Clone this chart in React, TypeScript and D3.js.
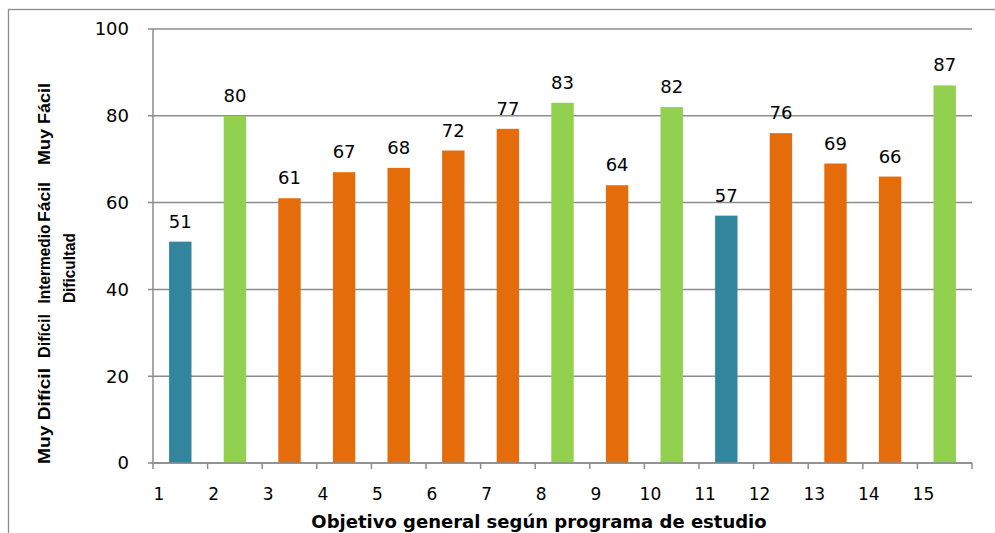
import React from 'react';
import * as d3 from 'd3';

const objetivos = ['1', '2', '3', '4', '5', '6', '7', '8', '9', '10', '11', '12', '13', '14', '15'];
const porcentajes = [51, 80, 61, 67, 68, 72, 77, 83, 64, 82, 57, 76, 69, 66, 87];
// nivel de dificultad de cada objetivo
const niveles = ['intermedio', 'muyFacil', 'facil', 'facil', 'facil', 'facil', 'facil', 'muyFacil', 'facil', 'muyFacil', 'intermedio', 'facil', 'facil', 'facil', 'muyFacil'];
const yTicks = [0, 20, 40, 60, 80, 100];
const escalaDificultad = [
  { label: 'Muy Difícil', y: 416, len: 96 },
  { label: 'Difícil', y: 336, len: 44 },
  { label: 'Intermedio', y: 264, len: 79 },
  { label: 'Fácil', y: 202, len: 40 },
  { label: 'Muy Fácil', y: 124, len: 82 },
];

const colores: Record<string, string> = {
  intermedio: '#31859C',
  muyFacil: '#92D050',
  facil: '#E46C0A',
};

const W = 995;
const H = 533;
const margin = { top: 29, right: 23, bottom: 70, left: 153 };
const gris = '#8c8c8c';
const fuente = "'DejaVu Sans', sans-serif";
const fuenteTitulo = "'Liberation Sans', Arial, sans-serif";

const App: React.FC = () => {
  const x = d3.scaleBand<string>()
    .domain(objetivos)
    .range([margin.left, W - margin.right])
    .padding(0);

  const y = d3.scaleLinear()
    .domain([0, 100])
    .range([H - margin.bottom, margin.top]);

  const bw = x.bandwidth();
  const barW = bw * 0.41;
  const x0 = margin.left;
  const x1 = W - margin.right;
  const y0 = y(0);

  // limites de categoria para las marcas del eje x
  const bordes = objetivos.map(c => x(c)!).concat([x1]);

  return (
    <svg width={W} height={H} style={{ position: 'absolute', left: 0, top: 0, background: '#fff' }}>
      <rect x={8.5} y={9.5} width={1100} height={700} fill="#fff" stroke={gris} strokeWidth={1.3} />

      {/* rejilla */}
      {yTicks.map(t => (
        <g key={t}>
          <line x1={x0 - 5} x2={x1} y1={y(t)} y2={y(t)} stroke={gris} strokeWidth={1.5} />
          <text x={129} y={y(t)} dy="0.35em" textAnchor="end" fontFamily={fuente} fontSize={18} fill="#000">
            {t}
          </text>
        </g>
      ))}

      {/* eje y */}
      <line x1={x0} x2={x0} y1={margin.top} y2={y0} stroke={gris} strokeWidth={1.5} />

      {/* barras */}
      {objetivos.map((c, i) => {
        const bx = x(c)! + (bw - barW) / 2;
        return (
          <g key={c}>
            <rect x={bx} y={y(porcentajes[i])} width={barW} height={y0 - y(porcentajes[i])} fill={colores[niveles[i]]} />
            <text x={bx + barW / 2} y={y(porcentajes[i]) - 14} textAnchor="middle" fontFamily={fuente} fontSize={18} fill="#000">
              {porcentajes[i]}
            </text>
          </g>
        );
      })}

      {/* eje x */}
      <line x1={x0} x2={x1} y1={y0} y2={y0} stroke={gris} strokeWidth={1.5} />
      {bordes.map((b, i) => (
        <line key={i} x1={b} x2={b} y1={y0} y2={y0 + 6} stroke={gris} strokeWidth={1.5} />
      ))}
      {objetivos.map(c => (
        <text key={c} x={x(c)! + 6} y={500} textAnchor="middle" fontFamily={fuente} fontSize={17} fill="#000">
          {c}
        </text>
      ))}
      <text x={539} y={528} textAnchor="middle" fontFamily={fuente} fontSize={18} fontWeight="bold" fill="#000">
        Objetivo general según programa de estudio
      </text>

      {/* titulo eje y */}
      {escalaDificultad.map(d => (
        <text key={d.label} transform={`translate(50,${d.y}) rotate(-90)`} textAnchor="middle" fontFamily={fuenteTitulo}
          fontSize={16.5} fontWeight="bold" fill="#000" textLength={d.len} lengthAdjust="spacingAndGlyphs">
          {d.label}
        </text>
      ))}
      <text transform={`translate(75,268) rotate(-90)`} textAnchor="middle" fontFamily={fuenteTitulo} fontSize={16.5}
        fontWeight="bold" fill="#000" textLength={70} lengthAdjust="spacingAndGlyphs">
        Dificultad
      </text>
    </svg>
  );
};

export default App;
